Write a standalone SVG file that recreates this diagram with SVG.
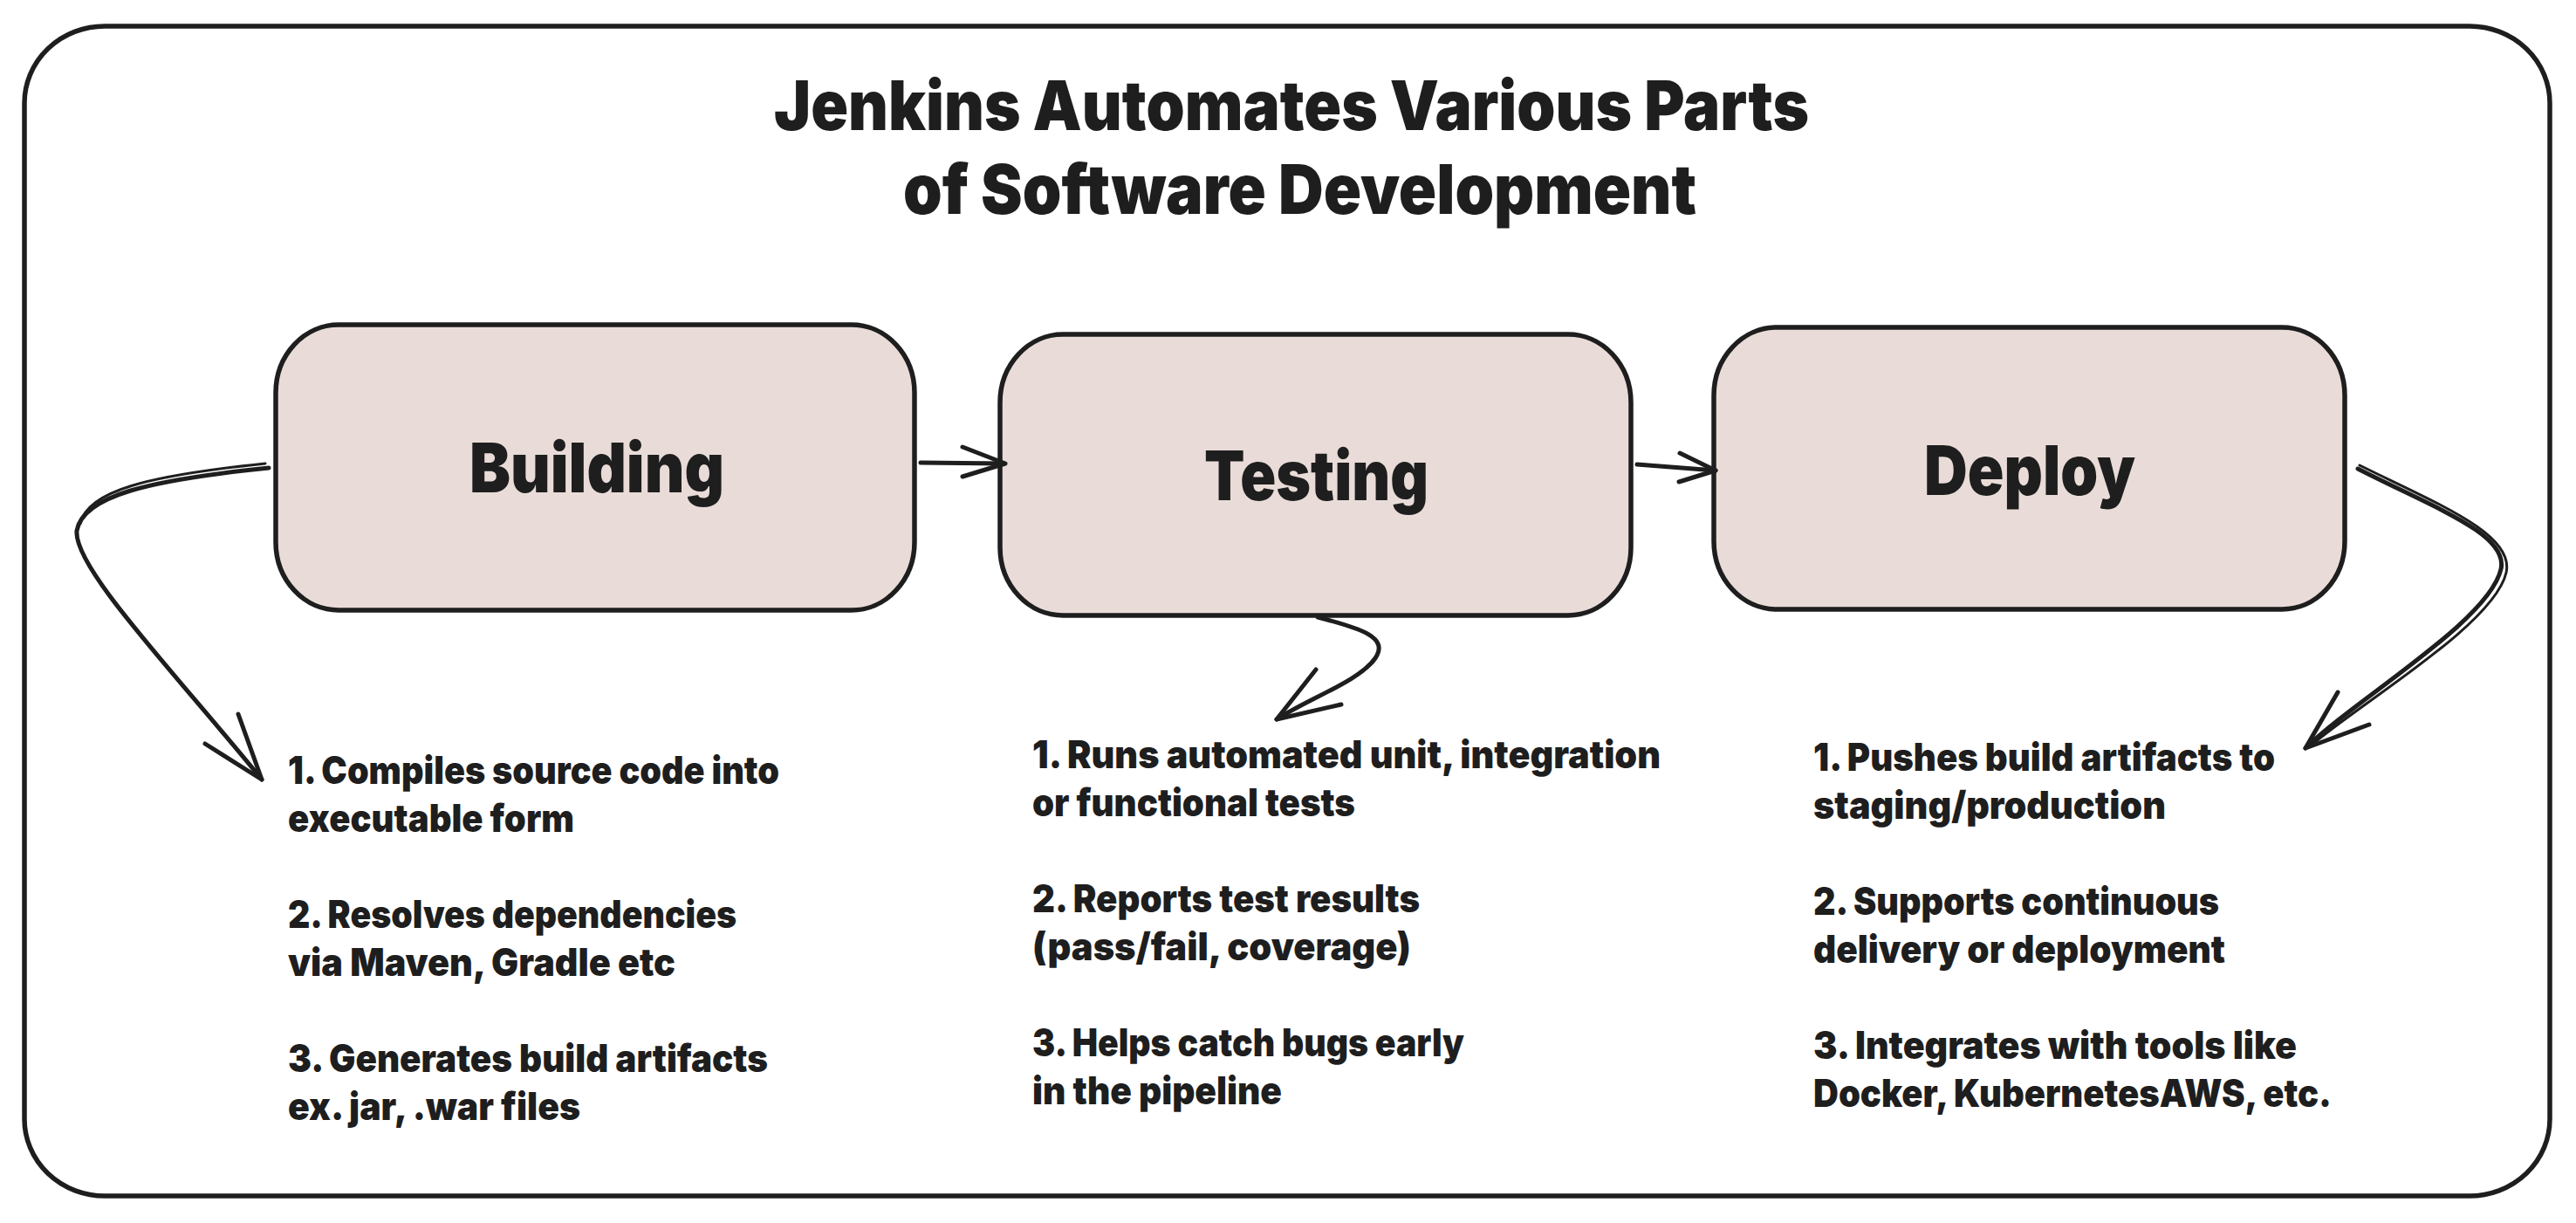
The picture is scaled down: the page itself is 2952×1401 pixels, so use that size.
<svg xmlns="http://www.w3.org/2000/svg" width="2952" height="1401" viewBox="0 0 2952 1401">
<style>
.frame{fill:#ffffff;stroke:#1e1e1e;stroke-width:5.5}
.box{fill:#e9dcd8;stroke:#1e1e1e;stroke-width:5.5}
.t{font-family:Inter,"Liberation Sans",sans-serif;font-weight:900;fill:#1e1e1e}
.title{font-size:79px}
.label{font-size:79px}
.item{font-size:44px}
.conn{fill:none;stroke:#1e1e1e;stroke-width:5;stroke-linecap:round;stroke-linejoin:round}
.conn2{fill:none;stroke:#1e1e1e;stroke-width:3;stroke-linecap:round}
</style>
<rect width="2952" height="1401" fill="#ffffff"/>
<g id="frame">
<rect class="frame" x="28" y="30" width="2894" height="1340" rx="92" ry="88"/>
</g>
<g id="title">
<text class="t title" x="887" y="149" textLength="1186" lengthAdjust="spacingAndGlyphs">Jenkins Automates Various Parts</text>
<text class="t title" x="1035" y="245" textLength="909" lengthAdjust="spacingAndGlyphs">of Software Development</text>
</g>
<g id="building">
<rect class="box" x="316" y="372" width="732" height="327" rx="72" ry="78"/>
<text class="t label" x="538" y="564" textLength="292" lengthAdjust="spacingAndGlyphs">Building</text>
</g>
<g id="testing">
<rect class="box" x="1146" y="383" width="723" height="322" rx="72" ry="78"/>
<text class="t label" x="1380" y="573" textLength="257" lengthAdjust="spacingAndGlyphs">Testing</text>
</g>
<g id="deploy">
<rect class="box" x="1964" y="375" width="723" height="323" rx="72" ry="78"/>
<text class="t label" x="2205" y="567" textLength="242" lengthAdjust="spacingAndGlyphs">Deploy</text>
</g>
<g id="building-notes">
<text class="t item" x="330" y="898" textLength="563" lengthAdjust="spacingAndGlyphs">1. Compiles source code into</text>
<text class="t item" x="330" y="953" textLength="328" lengthAdjust="spacingAndGlyphs">executable form</text>
<text class="t item" x="330" y="1063" textLength="514" lengthAdjust="spacingAndGlyphs">2. Resolves dependencies</text>
<text class="t item" x="330" y="1118" textLength="444" lengthAdjust="spacingAndGlyphs">via Maven, Gradle etc</text>
<text class="t item" x="330" y="1228" textLength="550" lengthAdjust="spacingAndGlyphs">3. Generates build artifacts</text>
<text class="t item" x="330" y="1283" textLength="335" lengthAdjust="spacingAndGlyphs">ex. jar, .war files</text>
</g>
<g id="testing-notes">
<text class="t item" x="1183" y="880" textLength="720" lengthAdjust="spacingAndGlyphs">1. Runs automated unit, integration</text>
<text class="t item" x="1183" y="935" textLength="370" lengthAdjust="spacingAndGlyphs">or functional tests</text>
<text class="t item" x="1183" y="1045" textLength="444" lengthAdjust="spacingAndGlyphs">2. Reports test results</text>
<text class="t item" x="1183" y="1100" textLength="434" lengthAdjust="spacingAndGlyphs">(pass/fail, coverage)</text>
<text class="t item" x="1183" y="1210" textLength="495" lengthAdjust="spacingAndGlyphs">3. Helps catch bugs early</text>
<text class="t item" x="1183" y="1265" textLength="286" lengthAdjust="spacingAndGlyphs">in the pipeline</text>
</g>
<g id="deploy-notes">
<text class="t item" x="2078" y="883" textLength="529" lengthAdjust="spacingAndGlyphs">1. Pushes build artifacts to</text>
<text class="t item" x="2078" y="938" textLength="404" lengthAdjust="spacingAndGlyphs">staging/production</text>
<text class="t item" x="2078" y="1048" textLength="465" lengthAdjust="spacingAndGlyphs">2. Supports continuous</text>
<text class="t item" x="2078" y="1103" textLength="472" lengthAdjust="spacingAndGlyphs">delivery or deployment</text>
<text class="t item" x="2078" y="1213" textLength="554" lengthAdjust="spacingAndGlyphs">3. Integrates with tools like</text>
<text class="t item" x="2078" y="1268" textLength="594" lengthAdjust="spacingAndGlyphs">Docker, KubernetesAWS, etc.</text>
</g>
<g id="connectors">
<path class="conn" d="M1055,530 L1150,531"/>
<path class="conn" d="M1103,512 L1152,531 L1103,546"/>
<path class="conn" d="M1876,532 L1966,539"/>
<path class="conn" d="M1925,519 L1966,539 L1924,552"/>
<path class="conn" d="M1510,707 C1560,720 1592,730 1576,754 C1558,780 1500,800 1463,824"/>
<path class="conn" d="M1508,767 L1463,824 L1537,807"/>
<path class="conn" d="M308,536 C170,550 95,568 88,608 C84,650 200,770 300,893"/>
<path class="conn2" d="M304,531 C170,545 100,562 92,600"/>
<path class="conn" d="M235,852 L300,893 L273,818"/>
<path class="conn" d="M2702,537 C2790,582 2875,612 2866,652 C2852,712 2700,800 2642,857"/>
<path class="conn2" d="M2704,533 C2795,578 2882,612 2872,656 C2858,716 2706,804 2647,855"/>
<path class="conn" d="M2679,793 L2642,857 L2715,830"/>
</g>
</svg>
